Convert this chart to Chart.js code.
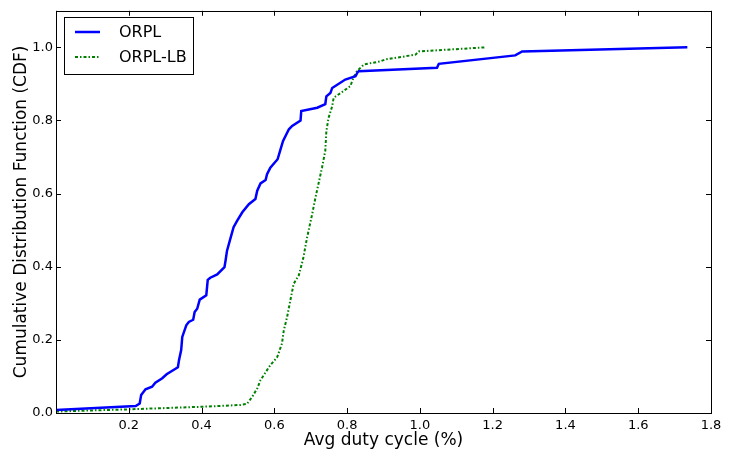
<!DOCTYPE html>
<html><head>
<meta charset="utf-8">
<script src="https://cdn.jsdelivr.net/npm/chart.js@4/dist/chart.umd.min.js"></script>
<style>html,body{margin:0;padding:0;background:#fff;}canvas{display:block;}</style>
</head><body>
<canvas id="c" width="734" height="452"></canvas>
<script>
const seriesNames = ["ORPL", "ORPL-LB"];
const orplX = [0, 0.219, 0.23, 0.234, 0.246, 0.264, 0.273, 0.292, 0.304, 0.335, 0.338, 0.344, 0.347, 0.358, 0.365, 0.377, 0.381, 0.388, 0.395, 0.413, 0.417, 0.424, 0.443, 0.463, 0.466, 0.47, 0.479, 0.488, 0.498, 0.512, 0.53, 0.548, 0.553, 0.562, 0.576, 0.58, 0.589, 0.609, 0.617, 0.624, 0.64, 0.649, 0.672, 0.674, 0.718, 0.74, 0.743, 0.754, 0.759, 0.795, 0.823, 0.829, 0.832, 1.047, 1.052, 1.262, 1.281, 1.735];
const orplY = [0.008, 0.019, 0.026, 0.049, 0.065, 0.072, 0.083, 0.095, 0.106, 0.125, 0.144, 0.172, 0.208, 0.240, 0.249, 0.255, 0.276, 0.285, 0.31, 0.322, 0.364, 0.37, 0.379, 0.399, 0.417, 0.444, 0.476, 0.508, 0.526, 0.549, 0.571, 0.585, 0.608, 0.628, 0.637, 0.653, 0.671, 0.694, 0.721, 0.744, 0.776, 0.785, 0.8, 0.826, 0.835, 0.845, 0.866, 0.875, 0.889, 0.912, 0.921, 0.932, 0.935, 0.944, 0.955, 0.978, 0.989, 1.0];
const lbX = [0, 0.2, 0.4, 0.507, 0.525, 0.539, 0.553, 0.562, 0.589, 0.608, 0.621, 0.626, 0.635, 0.644, 0.653, 0.667, 0.679, 0.69, 0.704, 0.713, 0.722, 0.731, 0.74, 0.743, 0.749, 0.759, 0.763, 0.782, 0.809, 0.817, 0.827, 0.846, 0.882, 0.892, 0.905, 0.988, 0.997, 1.18];
const lbY = [0.004, 0.01, 0.017, 0.022, 0.025, 0.044, 0.067, 0.09, 0.131, 0.153, 0.19, 0.226, 0.262, 0.308, 0.353, 0.376, 0.421, 0.48, 0.544, 0.589, 0.63, 0.671, 0.717, 0.771, 0.807, 0.839, 0.862, 0.875, 0.894, 0.916, 0.935, 0.953, 0.96, 0.962, 0.967, 0.98, 0.989, 1.0];
const xTickValues = [0, 0.2, 0.4, 0.6, 0.8, 1.0, 1.2, 1.4, 1.6, 1.8];
const yTickValues = [0, 0.2, 0.4, 0.6, 0.8, 1.0];

const FONT = "'DejaVu Sans', sans-serif";
const colors = ["#0000ff", "#008000"];
const dashes = [[], [3, 2, 1.5, 2]];
const widths = [2.5, 2];

function pts(xs, ys){ return xs.map((x,i)=>({x:x, y:ys[i]})); }

const framePlugin = {
  id: 'frame',
  afterDraw(chart){
    const ctx = chart.ctx, a = chart.chartArea;
    const xs = chart.scales.x, ys = chart.scales.y;
    ctx.save();
    ctx.strokeStyle = '#000'; ctx.lineWidth = 1;
    ctx.strokeRect(Math.round(a.left)+0.5, Math.round(a.top)+0.5, Math.round(a.right-a.left), Math.round(a.bottom-a.top));
    const L = 5;
    ctx.beginPath();
    xTickValues.forEach(v=>{
      const px = Math.round(xs.getPixelForValue(v))+0.5;
      ctx.moveTo(px, a.bottom); ctx.lineTo(px, a.bottom-L);
      ctx.moveTo(px, a.top); ctx.lineTo(px, a.top+L);
    });
    yTickValues.forEach(v=>{
      const py = Math.round(ys.getPixelForValue(v))+0.5;
      ctx.moveTo(a.left, py); ctx.lineTo(a.left+L, py);
      ctx.moveTo(a.right, py); ctx.lineTo(a.right-L, py);
    });
    ctx.stroke();
    // legend
    const bx = 64.5, by = 17.5, bw = 129, bh = 57;
    ctx.fillStyle = '#fff';
    ctx.fillRect(bx, by, bw, bh);
    ctx.strokeRect(bx, by, bw, bh);
    ctx.font = "16px " + FONT;
    ctx.textBaseline = 'middle';
    ctx.textAlign = 'left';
    seriesNames.forEach((n,i)=>{
      const yy = 32 + i*25;
      ctx.beginPath();
      ctx.strokeStyle = colors[i]; ctx.lineWidth = widths[i];
      ctx.setLineDash(dashes[i]);
      ctx.moveTo(75, yy); ctx.lineTo(100, yy); ctx.stroke();
      ctx.setLineDash([]);
      ctx.fillStyle = '#000';
      ctx.fillText(n, 119, yy+1);
    });
    ctx.restore();
  }
};

new Chart(document.getElementById('c'), {
  type: 'scatter',
  data: {
    datasets: [
      {label: seriesNames[0], data: pts(orplX, orplY), showLine: true, borderColor: colors[0], borderWidth: widths[0], pointRadius: 0, fill: false, tension: 0},
      {label: seriesNames[1], data: pts(lbX, lbY), showLine: true, borderColor: colors[1], borderWidth: widths[1], borderDash: dashes[1], pointRadius: 0, fill: false, tension: 0}
    ]
  },
  options: {
    responsive: false,
    animation: false,
    devicePixelRatio: 1,
    layout: {padding: {top: 9, right: 23, left: 0, bottom: 0}},
    plugins: {legend: {display: false}, tooltip: {enabled: false}},
    scales: {
      x: {
        type: 'linear', min: 0, max: 1.8,
        afterBuildTicks: s => { s.ticks = xTickValues.map(v=>({value:v})); },
        afterFit: s => { s.height = 39; },
        grid: {display: false, drawTicks: false},
        border: {display: false},
        ticks: {color: '#000', font: {family: FONT, size: 13}, padding: 5, maxRotation: 0,
          callback: v => v === 0 ? '' : v.toFixed(1)},
        title: {display: true, text: 'Avg duty cycle (%)', color: '#000', font: {family: FONT, size: 17}, padding: {top: 0, bottom: 1}}
      },
      y: {
        type: 'linear', min: 0, max: 1.1,
        afterBuildTicks: s => { s.ticks = yTickValues.map(v=>({value:v})); },
        afterFit: s => { s.width = 56; },
        grid: {display: false, drawTicks: false},
        border: {display: false},
        ticks: {color: '#000', font: {family: FONT, size: 13}, padding: 3,
          callback: v => v.toFixed(1)},
        title: {display: true, text: 'Cumulative Distribution Function (CDF)', color: '#000', font: {family: FONT, size: 17}, padding: {top: 11, bottom: 0}}
      }
    }
  },
  plugins: [framePlugin]
});
</script>
</body></html>
